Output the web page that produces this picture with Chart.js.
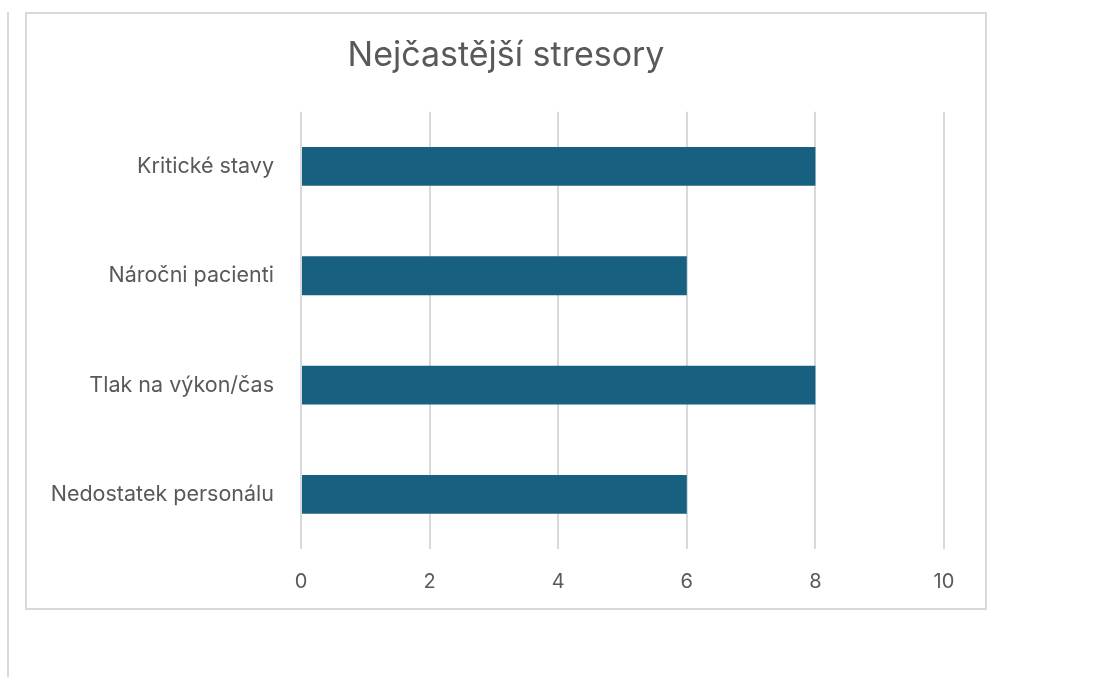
<!DOCTYPE html>
<html>
<head>
<meta charset="utf-8">
<script src="https://cdn.jsdelivr.net/npm/chart.js@4"></script>
<style>
  body { margin: 0; background: #fff; }
  #sideLine { position: absolute; left: 7px; top: 12px; width: 2px; height: 665px; background: #d9d9d9; }
  #box { position: absolute; left: 25px; top: 12px; width: 958px; height: 594px; border: 2px solid #d9d9d9; }
  #box canvas { display: block; }
</style>
</head>
<body>
<div id="sideLine"></div>
<div id="box"><canvas id="stressChart" width="958" height="594"></canvas></div>
<script>
/**
 *  ! Data
 * **/
const categories = ["Kritické stavy", "Náročni pacienti", "Tlak na výkon/čas", "Nedostatek personálu"];
const counts = [8, 6, 8, 6];
const xTicks = [0, 2, 4, 6, 8, 10];

const textGray = "#595959";
const fontFamily = "Inter, 'Open Sans', sans-serif";

const ctx = document.getElementById("stressChart");

new Chart(ctx, {
  type: "bar",
  data: {
    labels: categories,
    datasets: [
      {
        label: "Počet",
        backgroundColor: "#17607f",
        data: counts,
        barPercentage: 0.355,
        categoryPercentage: 1,
      },
    ],
  },
  options: {
    indexAxis: "y",
    responsive: false,
    animation: false,
    layout: { padding: 0 },
    scales: {
      x: {
        min: 0,
        max: 10,
        afterBuildTicks: (axis) => {
          axis.ticks = xTicks.map((v) => ({ value: v }));
        },
        afterFit: (axis) => {
          axis.height = 59;
        },
        border: { display: false },
        grid: {
          color: "#d9d9d9",
          lineWidth: 2,
          drawTicks: false,
        },
        ticks: {
          color: textGray,
          padding: 21,
          font: { size: 20, family: fontFamily },
        },
      },
      y: {
        afterFit: (axis) => {
          axis.width = 274;
        },
        border: { display: false },
        grid: { display: false, drawTicks: false },
        ticks: {
          color: textGray,
          padding: 27,
          font: { size: 21.5, family: fontFamily },
        },
      },
      // empty axis on the right, only keeps the space so the title stays centred
      yRight: {
        type: "category",
        position: "right",
        afterFit: (axis) => {
          axis.width = 41;
        },
        border: { display: false },
        grid: { display: false, drawTicks: false },
        ticks: { display: false },
      },
    },
    plugins: {
      legend: { display: false },
      tooltip: { enabled: false },
      title: {
        display: true,
        text: "Nejčastější stresory",
        color: textGray,
        font: { size: 34, weight: "normal", family: fontFamily },
        padding: { top: 21, bottom: 36 },
      },
    },
  },
});
</script>
</body>
</html>
